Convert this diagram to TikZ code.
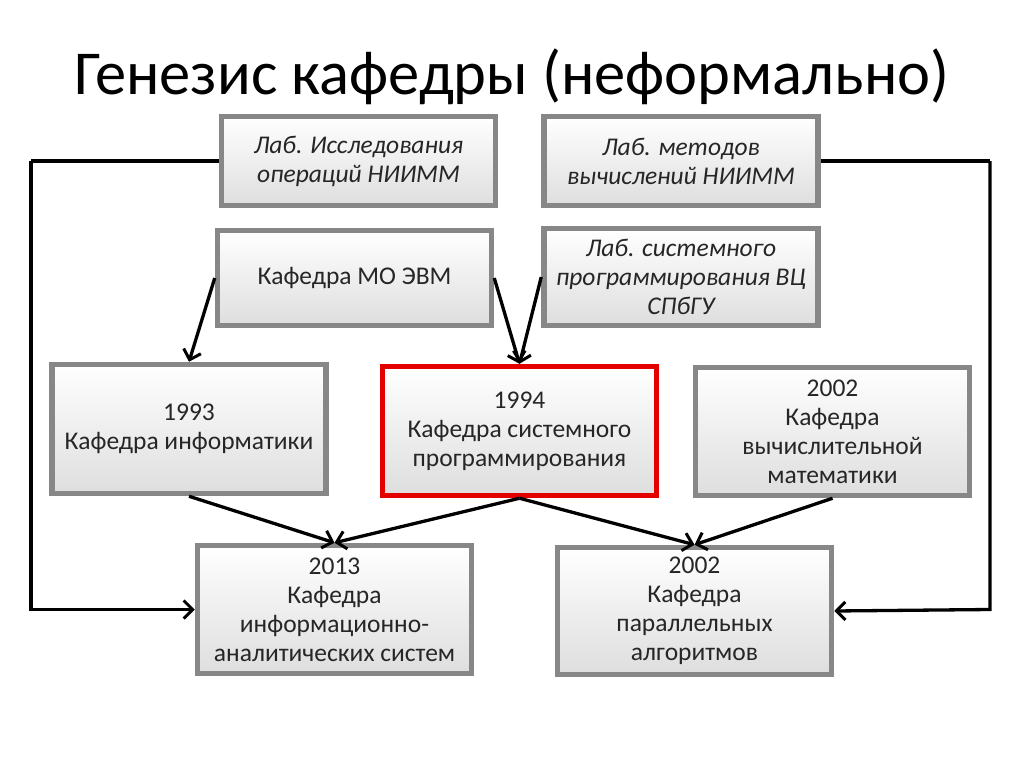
\documentclass[tikz,border=0pt]{standalone}
\usepackage{fontspec}
\setmainfont{Carlito}
\usetikzlibrary{arrows.meta,shadows}
\begin{document}
\begin{tikzpicture}[x=1pt,y=-1pt,
  box/.style={draw=black!47, line width=5.5pt, top color=white, bottom color=black!13,
    minimum width=274pt, inner sep=0pt, align=center, text=black!85,
    font=\fontsize{25.5}{29}\selectfont,
    drop shadow={opacity=0.2, shadow xshift=2pt, shadow yshift=-2pt}},
  ibox/.style={box, font=\fontsize{25.5}{29}\selectfont\itshape},
  redbox/.style={box, draw=red!90!black},
  conn/.style={line width=3.3pt, black, -{Straight Barb[length=9pt,width=18pt,line width=3pt]}},
  plain/.style={line width=3.3pt, black}]
\useasboundingbox (0,0) rectangle (1024,768);
\fill[white] (0,0) rectangle (1024,768);
\node[anchor=base, font=\fontsize{62.5}{72}\selectfont] (title) at (512,94) {Генезис кафедры (неформально)};
\coordinate (L) at (31,0);
\coordinate (R) at (990,0);
\node[ibox, minimum height=89pt] (n1) at (358.5,161) {Лаб. Исследования\\операций НИИММ};
\node[ibox, minimum height=89pt] (n2) at (681,161) {Лаб. методов\\вычислений НИИММ};
\node[box, minimum height=95pt] (n3) at (354.5,278) {Кафедра МО ЭВМ};
\node[ibox, minimum height=97pt] (n4) at (681,277) {Лаб. системного\\программирования ВЦ\\СПбГУ};
\node[box, minimum height=129pt] (n5) at (189,429) {1993\\Кафедра информатики};
\node[redbox, minimum height=129pt] (n6) at (519.5,431) {1994\\Кафедра системного\\программирования};
\node[box, minimum height=128pt] (n7) at (832.5,431.5) {2002\\Кафедра\\вычислительной\\математики};
\node[box, minimum height=128pt] (n8) at (334.5,609.5) {2013\\Кафедра\\информационно-\\аналитических систем};
\node[box, minimum height=127pt] (n9) at (694.5,611) {2002\\Кафедра\\параллельных\\алгоритмов};
\draw[plain] (n1.west) -- (L |- n1.west);
\draw[conn] (L |- n1.west) -- (L |- n8.west) -- (n8.west);
\draw[plain] (n2.east) -- (R |- n2.east);
\draw[conn] (R |- n2.east) -- (R |- n8.east) -- (n9.east);
\draw[conn] (n3.west) -- (n5.north);
\draw[conn] (n3.east) -- (n6.north);
\draw[conn] (n4.west) -- (n6.north);
\draw[conn] (n5.south) -- (n8.north);
\draw[conn] (n6.south) -- (n8.north);
\draw[conn] (n6.south) -- (n9.north);
\draw[conn] (n7.south) -- (n9.north);
\end{tikzpicture}
\end{document}
